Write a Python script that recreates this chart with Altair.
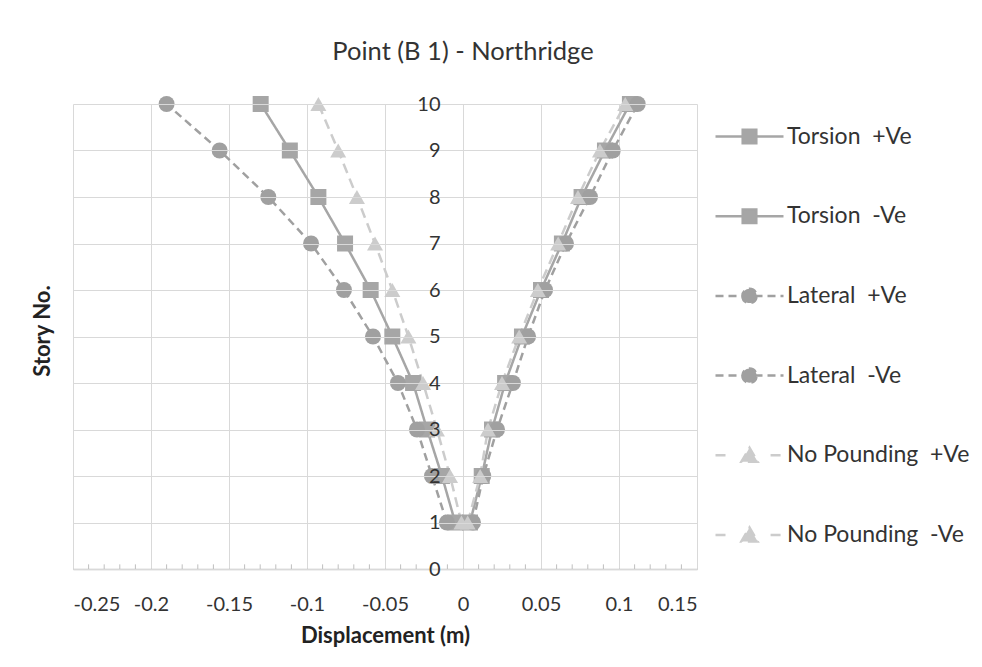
import altair as alt
import pandas as pd

# ---- data ----
stories = [1, 2, 3, 4, 5, 6, 7, 8, 9, 10]
torsion_pos = [0.0045, 0.012, 0.0186, 0.027, 0.0378, 0.050, 0.0634, 0.076, 0.091, 0.107]
torsion_neg = [-0.005, -0.0135, -0.023, -0.032, -0.0453, -0.0592, -0.0756, -0.0927, -0.111, -0.1297]
lateral_pos = [0.0064, 0.013, 0.0218, 0.032, 0.0417, 0.0526, 0.066, 0.0814, 0.096, 0.112]
lateral_neg = [-0.0103, -0.0199, -0.0295, -0.0417, -0.0577, -0.0763, -0.0974, -0.1248, -0.156, -0.190]
nopound_pos = [0.003, 0.011, 0.016, 0.025, 0.036, 0.048, 0.061, 0.0737, 0.0878, 0.104]
nopound_neg = [-0.001, -0.0083, -0.0167, -0.0256, -0.035, -0.0453, -0.0564, -0.068, -0.080, -0.0927]

series_names = [
    "Torsion\u00a0 +Ve", "Torsion\u00a0 -Ve",
    "Lateral\u00a0 +Ve", "Lateral\u00a0 -Ve",
    "No Pounding\u00a0 +Ve", "No Pounding\u00a0 -Ve",
]
x_tick_values = [-0.25, -0.2, -0.15, -0.1, -0.05, 0, 0.05, 0.1, 0.15]
x_minor_ticks = [-0.24, -0.23, -0.22, -0.21, -0.19, -0.18, -0.17, -0.16,
                 -0.14, -0.13, -0.12, -0.11, -0.09, -0.08, -0.07, -0.06,
                 -0.04, -0.03, -0.02, -0.01, 0.01, 0.02, 0.03, 0.04,
                 0.06, 0.07, 0.08, 0.09, 0.11, 0.12, 0.13, 0.14]
y_tick_values = [0, 1, 2, 3, 4, 5, 6, 7, 8, 9, 10]

# ---- styles ----
series_colors = ["#a6a6a6", "#a6a6a6", "#a0a0a0", "#a0a0a0", "#cccccc", "#cccccc"]
series_dash = [[1, 0], [1, 0], [8, 5], [8, 5], [10, 6], [10, 6]]
plot_shapes = ["square", "square", "circle", "circle", "triangle-up", "triangle-up"]
sq = "M-1,0L1,0M-0.2,-0.2L0.2,-0.2L0.2,0.2L-0.2,0.2Z"
ci = "M-1,0L1,0M-0.21,0A0.21,0.21 0 1,0 0.21,0A0.21,0.21 0 1,0 -0.21,0Z"
tr = "M-1,0L-0.62,0M0.62,0L1,0M0,-0.22L0.24,0.19L-0.24,0.19Z"
legend_shapes = [sq, sq, ci, ci, tr, tr]

rows = []
for name, vals in zip(series_names, [torsion_pos, torsion_neg, lateral_pos,
                                     lateral_neg, nopound_pos, nopound_neg]):
    for s, v in zip(stories, vals):
        rows.append({"series": name, "story": s, "disp": v})
df = pd.DataFrame(rows)
legend_df = pd.DataFrame({"series": series_names})
minor_df = pd.DataFrame({"tick": x_minor_ticks})

FONT = "Lato"
x_scale = alt.Scale(domain=[-0.25, 0.15], nice=False, zero=False)
y_scale = alt.Scale(domain=[0, 10], nice=False, zero=False)

x_axis = alt.Axis(values=x_tick_values, labelExpr="datum.value + ''",
                  ticks=False, labelPadding=25, domainColor="#bfbfbf", domainWidth=1.5,
                  grid=True, gridColor="#d9d9d9", labelFontSize=20,
                  title="Displacement (m)", titleFontSize=22, titleFontWeight="bold",
                  titleY=56, titleBaseline="top")
y_axis = alt.Axis(values=y_tick_values, offset=-390, domain=False, ticks=False,
                  labelPadding=23, labelFontSize=20, grid=True, gridColor="#d9d9d9",
                  title="Story No.", titleFontSize=22, titleFontWeight="bold",
                  titleX=-414, titleY=226.5, titleAngle=270, titleBaseline="alphabetic",
                  titleAlign="center", zindex=1)

def sc(rng):
    return alt.Scale(domain=series_names, range=rng)

X = alt.X("disp:Q", scale=x_scale, axis=x_axis)
Y = alt.Y("story:Q", scale=y_scale, axis=y_axis)

lines = alt.Chart(df).mark_line(strokeWidth=2.5).encode(
    x=X, y=Y,
    stroke=alt.Stroke("series:N", scale=sc(series_colors), legend=None),
    strokeDash=alt.StrokeDash("series:N", scale=sc(series_dash), legend=None),
    order=alt.Order("story:Q"),
)

points = alt.Chart(df).mark_point(filled=True, size=256, opacity=1).encode(
    x=X, y=Y,
    shape=alt.Shape("series:N", scale=sc(plot_shapes), legend=None),
    fill=alt.Fill("series:N", scale=sc(series_colors), legend=None),
)

minor = alt.Chart(minor_df).mark_rule(color="#bfbfbf", strokeWidth=1).encode(
    x=alt.X("tick:Q", scale=x_scale, axis=x_axis),
    y=alt.datum(0),
    y2=alt.datum(0.1),
)

leg = alt.Legend(title=None, orient="none", legendX=641, legendY=-3,
                 symbolSize=4624, symbolStrokeWidth=2.5, labelOffset=2,
                 labelFontSize=23, labelFont=FONT, labelColor="#333333",
                 labelLimit=0, rowPadding=31.7, padding=0, symbolOpacity=1)

legend_layer = alt.Chart(legend_df).mark_point(
    filled=True, opacity=0, size=4624, strokeWidth=2.5
).encode(
    shape=alt.Shape("series:N", scale=sc(legend_shapes), legend=leg),
    fill=alt.Fill("series:N", scale=sc(series_colors), legend=leg),
    stroke=alt.Stroke("series:N", scale=sc(series_colors), legend=leg),
    strokeDash=alt.StrokeDash("series:N", scale=sc(series_dash), legend=leg),
)

chart = alt.layer(minor, lines, points, legend_layer).resolve_scale(
    fill="independent", stroke="independent",
    strokeDash="independent", shape="independent",
).properties(
    width=624, height=465,
    autosize=alt.AutoSizeParams(type="none"),
    padding={"left": 65, "top": 96, "right": 277, "bottom": 90},
    title=alt.TitleParams("Point (B 1) - Northridge", fontSize=25.5, font=FONT,
                          fontWeight="normal", color="#333333", anchor="middle",
                          dx=78, offset=29),
).configure(font=FONT).configure_axis(
    labelFont=FONT, titleFont=FONT, labelColor="#333333", titleColor="#222222",
).configure_view(stroke=None)

chart.save("out.html", embed_options={"renderer": "svg", "actions": False})
